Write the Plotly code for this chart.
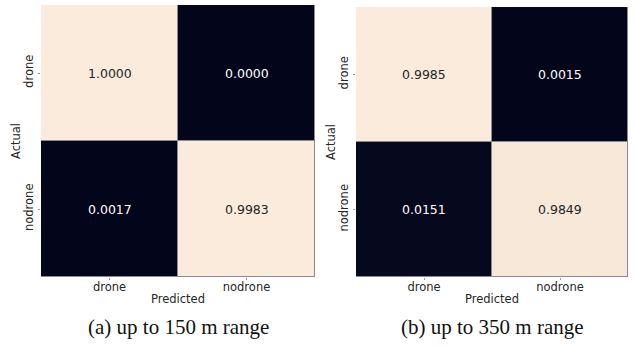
import plotly.graph_objects as go

labels = ["drone", "nodrone"]
cm_a = [[1.0000, 0.0000], [0.0017, 0.9983]]
cm_b = [[0.9985, 0.0015], [0.0151, 0.9849]]
captions = ["(a) up to 150 m range", "(b) up to 350 m range"]

W, H = 635, 346
fig = go.Figure()

panels = [
    (cm_a, (41, 315), (5, 277), "x", "y"),
    (cm_b, (356, 628), (7, 277), "x2", "y2"),
]
cs = [[0, "#03051A"], [1, "#FAEBDD"]]
FS = 11.5
TXT = "#262626"
for i, (cm, (xl, xr), (yt, yb), xa, ya) in enumerate(panels):
    flat = [v for r in cm for v in r]
    zmin, zmax = min(flat), max(flat)
    fig.add_trace(go.Heatmap(z=cm, x=labels, y=labels, colorscale=cs, zmin=zmin, zmax=zmax,
                             showscale=False, xaxis=xa, yaxis=ya, hoverinfo="skip", xgap=1, ygap=1))
    sfx = "" if i == 0 else "2"
    fig.layout["xaxis" + sfx] = dict(domain=[xl / W, xr / W], anchor=ya, automargin=False,
                                     ticks="outside", ticklen=2, tickcolor="#999", showgrid=False, zeroline=False,
                                     ticklabelstandoff=-3,
                                     tickfont=dict(size=FS, color=TXT), showline=False)
    fig.layout["yaxis" + sfx] = dict(domain=[1 - yb / H, 1 - yt / H], anchor=xa, autorange="reversed",
                                     automargin=False,
                                     ticks="outside", ticklen=2, tickcolor="#999", tickangle=-90,
                                     showgrid=False, zeroline=False,
                                     tickfont=dict(size=FS, color=TXT), showline=False)
    mid = (zmin + zmax) / 2
    for r, rl in enumerate(labels):
        for c, clab in enumerate(labels):
            v = cm[r][c]
            fig.add_annotation(x=clab, y=rl, xref=xa, yref=ya, text=f"{v:.4f}", showarrow=False,
                               font=dict(size=12.5, color=TXT if v > mid else "white"))
    # axis titles
    fig.add_annotation(x=(xl + xr) / 2 / W, y=1 - 299 / H, xref="paper", yref="paper",
                       xanchor="center", yanchor="middle", text="Predicted", showarrow=False,
                       font=dict(size=FS, color=TXT))
    fig.add_annotation(x=(xl - 25) / W, y=1 - (yt + yb) / 2 / H, xref="paper", yref="paper",
                       xanchor="center", yanchor="middle", text="Actual", textangle=-90, showarrow=False,
                       font=dict(size=FS, color=TXT))
    fig.add_annotation(x=(xl + xr) / 2 / W, y=1 - 327 / H, xref="paper", yref="paper",
                       xanchor="center", yanchor="middle", text=captions[i], showarrow=False,
                       font=dict(family="Liberation Serif, Times New Roman, serif", size=21, color="#111"))

fig.update_layout(width=W, height=H, margin=dict(l=0, r=0, t=0, b=0),
                  paper_bgcolor="white", plot_bgcolor="#8a8a90",
                  font=dict(family="DejaVu Sans, sans-serif", color=TXT))
fig.write_html("out.html", config={"displayModeBar": False},
               post_script="document.body.style.margin='0';")
